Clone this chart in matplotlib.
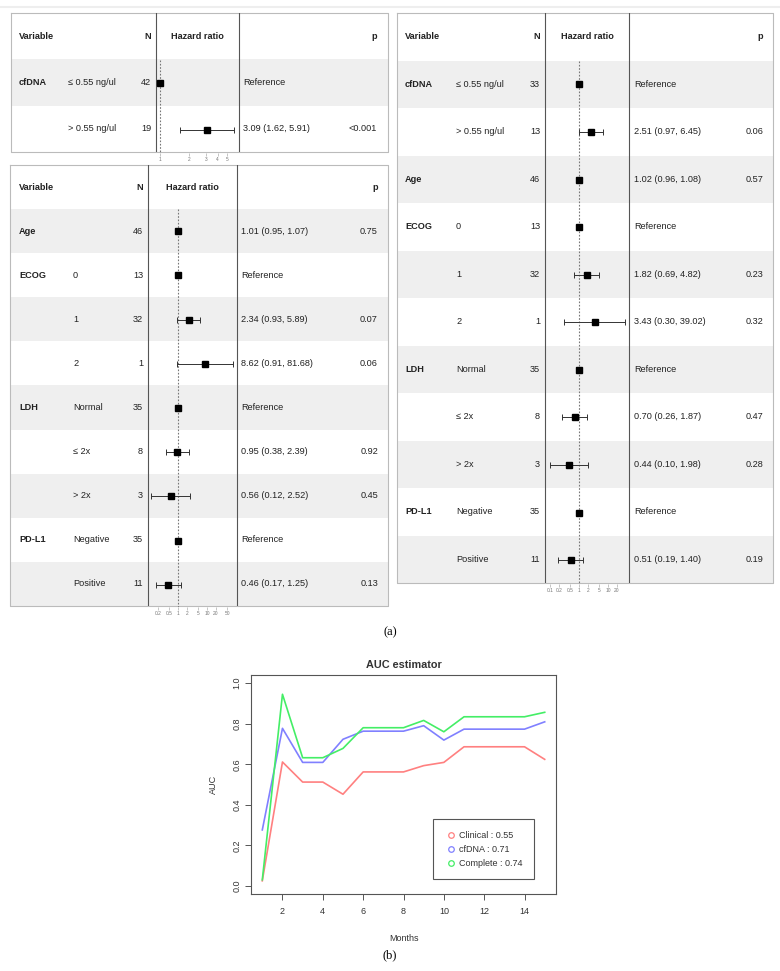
import numpy as np
import matplotlib
matplotlib.use('Agg')
import matplotlib.pyplot as plt
from matplotlib.lines import Line2D

W, H = 780, 971
plt.rcParams['font.family'] = ['Liberation Sans', 'DejaVu Sans']
nan = np.nan

# ---- (a) forest plots ----
tl_var = ['cfDNA', '']
tl_level = ['≤ 0.55 ng/ul', '> 0.55 ng/ul']
tl_n = [42, 19]
tl_hr = [1, 3.09]
tl_lo = [nan, 1.62]
tl_hi = [nan, 5.91]
tl_p = ['', '<0.001']
tl_ticks = [1, 2, 3, 4, 5]

bl_var = ['Age', 'ECOG', '', '', 'LDH', '', '', 'PD-L1', '']
bl_level = ['', '0', '1', '2', 'Normal', '≤ 2x', '> 2x', 'Negative', 'Positive']
bl_n = [46, 13, 32, 1, 35, 8, 3, 35, 11]
bl_hr = [1.01, 1, 2.34, 8.62, 1, 0.95, 0.56, 1, 0.46]
bl_lo = [0.95, nan, 0.93, 0.91, nan, 0.38, 0.12, nan, 0.17]
bl_hi = [1.07, nan, 5.89, 81.68, nan, 2.39, 2.52, nan, 1.25]
bl_p = ['0.75', '', '0.07', '0.06', '', '0.92', '0.45', '', '0.13']
bl_ticks = [0.2, 0.5, 1, 2, 5, 10, 20, 50]

r_var = ['cfDNA', '', 'Age', 'ECOG', '', '', 'LDH', '', '', 'PD-L1', '']
r_level = ['≤ 0.55 ng/ul', '> 0.55 ng/ul', '', '0', '1', '2', 'Normal', '≤ 2x', '> 2x', 'Negative', 'Positive']
r_n = [33, 13, 46, 13, 32, 1, 35, 8, 3, 35, 11]
r_hr = [1, 2.51, 1.02, 1, 1.82, 3.43, 1, 0.70, 0.44, 1, 0.51]
r_lo = [nan, 0.97, 0.96, nan, 0.69, 0.30, nan, 0.26, 0.10, nan, 0.19]
r_hi = [nan, 6.45, 1.08, nan, 4.82, 39.02, nan, 1.87, 1.98, nan, 1.40]
r_p = ['', '0.06', '0.57', '', '0.23', '0.32', '', '0.47', '0.28', '', '0.19']
r_ticks = [0.1, 0.2, 0.5, 1, 2, 5, 10, 20]

# ---- (b) AUC ----
months = list(range(1, 16))
auc_clinical = [0.025, 0.611, 0.512, 0.512, 0.452, 0.562, 0.562, 0.562, 0.593, 0.609, 0.686, 0.686, 0.686, 0.686, 0.624]
auc_cfdna = [0.276, 0.777, 0.609, 0.609, 0.723, 0.763, 0.763, 0.763, 0.790, 0.719, 0.773, 0.773, 0.773, 0.773, 0.809]
auc_complete = [0.030, 0.945, 0.632, 0.632, 0.678, 0.780, 0.780, 0.780, 0.816, 0.760, 0.834, 0.834, 0.834, 0.834, 0.856]
legend_labels = ['Clinical : 0.55', 'cfDNA : 0.71', 'Complete : 0.74']
line_colors = ['#ff8080', '#8080ff', '#44ee66']

fig = plt.figure(figsize=(W / 100, H / 100), dpi=100)


def px_axes(x0, y0, x1, y1):
    return fig.add_axes([x0 / W, 1 - y1 / H, (x1 - x0) / W, (y1 - y0) / H])


def fmt_tick(v):
    return ('%g' % v)


def forest(box, cols, xlim, var, level, n, hr, lo, hi, p, ticks):
    left, top, right, bottom = box
    nrow = len(var) + 1
    fs = 6.6
    ax = px_axes(left, top, right, bottom)
    ax.set_xlim(left, right)
    ax.set_ylim(nrow, 0)
    ax.axis('off')
    for i in range(len(var)):
        if i % 2 == 0:
            ax.axhspan(i + 1, i + 2, color='#efefef', lw=0)
    ax.plot([left, right, right, left, left], [0, 0, nrow, nrow, 0], color='#bbbbbb', lw=0.8, clip_on=False)
    for xd in (cols['hr0'], cols['hr1']):
        ax.plot([xd, xd], [0, nrow], color='#555555', lw=0.8)
    kw = dict(va='center', fontsize=fs, color='#222222')
    ax.text(cols['var'], 0.5, 'Variable', fontweight='bold', **kw)
    ax.text(cols['n'], 0.5, 'N', ha='right', fontweight='bold', **kw)
    ax.text((cols['hr0'] + cols['hr1']) / 2, 0.5, 'Hazard ratio', ha='center', fontweight='bold', **kw)
    ax.text(cols['p'], 0.5, 'p', ha='right', fontweight='bold', **kw)
    for i in range(len(var)):
        y = i + 1.5
        ax.text(cols['var'], y, var[i], fontweight='bold', **kw)
        ax.text(cols['lev'], y, level[i], **kw)
        ax.text(cols['n'], y, str(n[i]), ha='right', **kw)
        if np.isnan(lo[i]):
            est = 'Reference'
        else:
            est = '%.2f (%.2f, %.2f)' % (hr[i], lo[i], hi[i])
        ax.text(cols['txt'], y, est, **kw)
        ax.text(cols['p'], y, p[i], ha='right', **kw)

    hx = px_axes(cols['hr0'], top, cols['hr1'], bottom + 1)
    hx.set_xscale('log')
    hx.set_xlim(*xlim)
    hx.set_ylim(nrow, 0)
    hx.patch.set_alpha(0)
    for s in hx.spines.values():
        s.set_visible(False)
    hx.vlines(1, 1, nrow, colors='#777777', linestyles=(0, (1.5, 1.5)), lw=0.8)
    ys = np.arange(len(var)) + 1.5
    hr_a = np.array(hr, float)
    lo_a = np.array(lo, float)
    hi_a = np.array(hi, float)
    has = ~np.isnan(lo_a)
    hx.errorbar(hr_a[has], ys[has], xerr=[hr_a[has] - lo_a[has], hi_a[has] - hr_a[has]],
                fmt='none', ecolor='#333333', elinewidth=0.7, capsize=2, capthick=0.7)
    hx.plot(hr_a, ys, 's', color='black', ms=4.6)
    hx.set_yticks([])
    hx.set_xticks(ticks)
    hx.set_xticklabels([fmt_tick(t) for t in ticks])
    hx.minorticks_off()
    hx.tick_params(axis='x', length=2, width=0.4, pad=1, labelsize=3.5, color='#999999', labelcolor='#777777')


forest((11, 13, 388, 152),
       dict(var=19, lev=68, n=151, hr0=156, hr1=239, txt=243, p=377),
       (0.908, 6.65), tl_var, tl_level, tl_n, tl_hr, tl_lo, tl_hi, tl_p, tl_ticks)
forest((10, 165, 388, 606),
       dict(var=19, lev=73, n=143, hr0=148, hr1=237, txt=241, p=378),
       (0.0924, 108), bl_var, bl_level, bl_n, bl_hr, bl_lo, bl_hi, bl_p, bl_ticks)
forest((397, 13, 773, 583),
       dict(var=405, lev=456, n=540, hr0=545, hr1=629, txt=634, p=763),
       (0.067, 52.8), r_var, r_level, r_n, r_hr, r_lo, r_hi, r_p, r_ticks)

fig.add_artist(Line2D([0, 1], [1 - 7 / H, 1 - 7 / H], color='#eeeeee', lw=1.5))
fig.text(390 / W, 1 - 632 / H, '(a)', ha='center', va='center', fontsize=9, family='Liberation Serif')

# ---- AUC chart ----
ax = px_axes(251, 675, 556, 894)
for vals, c in zip([auc_clinical, auc_cfdna, auc_complete], line_colors):
    ax.plot(months, vals, color=c, lw=1.2)
ax.set_xlim(0.44, 15.56)
ax.set_ylim(-0.04, 1.04)
ax.set_xticks(range(2, 15, 2))
ax.set_yticks([0.0, 0.2, 0.4, 0.6, 0.8, 1.0])
ax.set_yticklabels(['0.0', '0.2', '0.4', '0.6', '0.8', '1.0'], rotation=90, va='center')
for s in ax.spines.values():
    s.set_color('#555555')
    s.set_linewidth(0.8)
ax.tick_params(length=4, width=0.7, color='#555555', labelsize=6.5, labelcolor='#333333')
ax.tick_params(axis='x', pad=5)
ax.tick_params(axis='y', pad=3)
ax.set_xlabel('Months', fontsize=6.5, color='#333333', labelpad=13)
ax.set_ylabel('AUC', fontsize=6.5, color='#333333', labelpad=10)
ax.set_title('AUC estimator', fontsize=7.8, fontweight='bold', color='#333333', pad=5)
handles = [Line2D([], [], ls='none', marker='o', mfc='none', mec=c, ms=4, mew=0.9) for c in line_colors]
leg = ax.legend(handles, legend_labels, loc='upper left', bbox_to_anchor=(433 / W, 1 - 819 / H),
                bbox_transform=fig.transFigure, fontsize=6.5, fancybox=False, edgecolor='#555555',
                framealpha=1, handlelength=1.4, handletextpad=0.2, labelspacing=0.55,
                borderpad=1.3, borderaxespad=0)
leg.get_frame().set_linewidth(0.8)
for t in leg.get_texts():
    t.set_color('#333333')

fig.text(390 / W, 1 - 955 / H, '(b)', ha='center', va='center', fontsize=9, family='Liberation Serif')

fig.savefig('out.png', dpi=100)
